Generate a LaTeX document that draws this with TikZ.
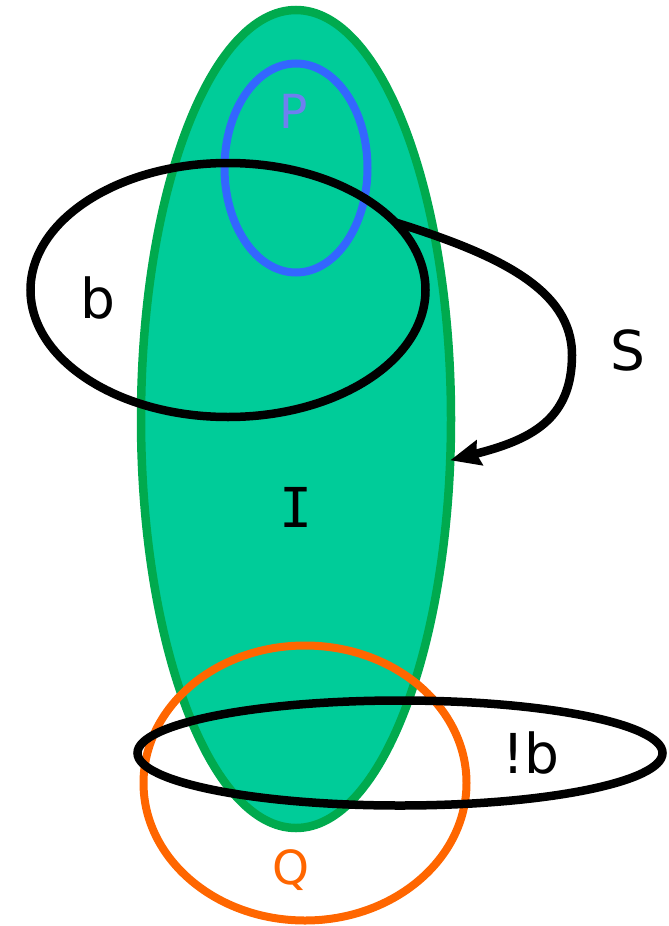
\documentclass[tikz,border=0pt]{standalone}
\usepackage{fontspec}
\setmainfont{DejaVu Sans}
\newfontfamily\serifI{DejaVu Sans Mono}
\usetikzlibrary{shapes.geometric,arrows.meta}
\definecolor{gfill}{HTML}{00CC99}
\definecolor{gline}{HTML}{00AA4E}
\definecolor{bline}{HTML}{3366FF}
\definecolor{ptext}{HTML}{6F7FF0}
\definecolor{oline}{HTML}{FF6600}
\tikzset{
  ell/.style={ellipse, inner sep=0pt, outer sep=0pt},
  big/.style={font=\fontsize{55}{55}\selectfont, anchor=base, inner sep=0pt},
  small/.style={font=\fontsize{47}{47}\selectfont, anchor=base, inner sep=0pt},
  conn/.style={line width=8.5pt, -{Stealth[length=30pt,width=25pt,inset=3pt]}}
}
\begin{document}
\begin{tikzpicture}[x=1pt,y=-1pt]
\useasboundingbox (0,0) rectangle (669,926);
\node[ell, fill=gfill, draw=gline, line width=8.5pt, minimum width=310pt, minimum height=818pt] (Iell) at (296,419) {};
\node[ell, draw=bline, line width=8pt, minimum width=143pt, minimum height=209pt] (Pell) at (296,168) {};
\node[ell, draw=black, line width=8.5pt, minimum width=395pt, minimum height=254pt] (bell) at (228,290) {};
\draw[conn] (bell.22) .. controls (500,255) and (572,290) .. (572,355) coordinate (turn)
  .. controls (572,420) and (530,440) .. (Iell.-15);
\node[ell, draw=oline, line width=8pt, minimum width=323pt, minimum height=275pt] (Qell) at (305,783) {};
\node[ell, draw=black, line width=8.5pt, minimum width=525pt, minimum height=105pt] (nbell) at (400,753) {};
\node[small, text=ptext] (P) at (294,128) {P};
\node[big] (b) at (98,318) {b};
\node[big] (S) at (628,370) {S};
\node[big, font=\fontsize{55}{55}\serifI] (I) at (296,527) {I};
\node[big] (nb) at (531,773) {!b};
\node[small, text=oline] (Q) at (291,884) {Q};
\end{tikzpicture}
\end{document}
